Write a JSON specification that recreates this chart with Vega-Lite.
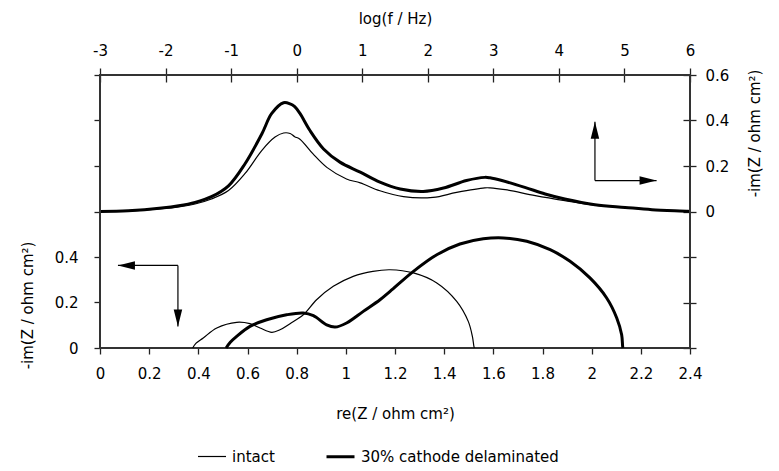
{
  "$schema": "https://vega.github.io/schema/vega-lite/v6.json",
  "width": 590,
  "height": 273,
  "autosize": {"type": "none"},
  "padding": {"left": 100, "top": 75, "right": 89, "bottom": 123},
  "background": "white",
  "config": {
    "view": {"stroke": null},
    "font": "DejaVu Sans",
    "axis": {
      "domain": false,
      "grid": false,
      "tickColor": "#222",
      "tickWidth": 1.3,
      "labelFont": "DejaVu Sans",
      "labelFontSize": 15,
      "labelColor": "black",
      "titleFont": "DejaVu Sans",
      "titleFontSize": 15,
      "titleFontWeight": "normal",
      "titleColor": "black",
      "labelOverlap": false,
      "labelFlush": false
    }
  },
  "datasets": {
    "bode": [
      {"series": "intact", "lf": -3, "im": 0},
      {"series": "intact", "lf": -2.57, "im": 0.002},
      {"series": "intact", "lf": -2.06, "im": 0.012},
      {"series": "intact", "lf": -1.8, "im": 0.02},
      {"series": "intact", "lf": -1.55, "im": 0.033},
      {"series": "intact", "lf": -1.3, "im": 0.055},
      {"series": "intact", "lf": -1.04, "im": 0.092},
      {"series": "intact", "lf": -0.79, "im": 0.166},
      {"series": "intact", "lf": -0.53, "im": 0.269},
      {"series": "intact", "lf": -0.33, "im": 0.327},
      {"series": "intact", "lf": -0.2, "im": 0.345},
      {"series": "intact", "lf": -0.1, "im": 0.343},
      {"series": "intact", "lf": -0.03, "im": 0.329},
      {"series": "intact", "lf": 0.05, "im": 0.318},
      {"series": "intact", "lf": 0.25, "im": 0.253},
      {"series": "intact", "lf": 0.46, "im": 0.194},
      {"series": "intact", "lf": 0.76, "im": 0.143},
      {"series": "intact", "lf": 0.97, "im": 0.126},
      {"series": "intact", "lf": 1.27, "im": 0.091},
      {"series": "intact", "lf": 1.63, "im": 0.065},
      {"series": "intact", "lf": 2.08, "im": 0.062},
      {"series": "intact", "lf": 2.44, "im": 0.084},
      {"series": "intact", "lf": 2.87, "im": 0.104},
      {"series": "intact", "lf": 2.95, "im": 0.104},
      {"series": "intact", "lf": 3.18, "im": 0.096},
      {"series": "intact", "lf": 3.64, "im": 0.07},
      {"series": "intact", "lf": 4.09, "im": 0.048},
      {"series": "intact", "lf": 4.55, "im": 0.028},
      {"series": "intact", "lf": 5.01, "im": 0.017},
      {"series": "intact", "lf": 5.42, "im": 0.008},
      {"series": "intact", "lf": 5.97, "im": 0.001},
      {"series": "intact", "lf": 6, "im": 0},
      {"series": "30% cathode delaminated", "lf": -3, "im": 0},
      {"series": "30% cathode delaminated", "lf": -2.57, "im": 0.003},
      {"series": "30% cathode delaminated", "lf": -2.06, "im": 0.015},
      {"series": "30% cathode delaminated", "lf": -1.8, "im": 0.025},
      {"series": "30% cathode delaminated", "lf": -1.55, "im": 0.04},
      {"series": "30% cathode delaminated", "lf": -1.3, "im": 0.065},
      {"series": "30% cathode delaminated", "lf": -1.04, "im": 0.113},
      {"series": "30% cathode delaminated", "lf": -0.79, "im": 0.209},
      {"series": "30% cathode delaminated", "lf": -0.53, "im": 0.342},
      {"series": "30% cathode delaminated", "lf": -0.38, "im": 0.431},
      {"series": "30% cathode delaminated", "lf": -0.2, "im": 0.478},
      {"series": "30% cathode delaminated", "lf": -0.1, "im": 0.473},
      {"series": "30% cathode delaminated", "lf": -0.03, "im": 0.461},
      {"series": "30% cathode delaminated", "lf": 0.05, "im": 0.431},
      {"series": "30% cathode delaminated", "lf": 0.2, "im": 0.357},
      {"series": "30% cathode delaminated", "lf": 0.41, "im": 0.275},
      {"series": "30% cathode delaminated", "lf": 0.66, "im": 0.217},
      {"series": "30% cathode delaminated", "lf": 0.97, "im": 0.173},
      {"series": "30% cathode delaminated", "lf": 1.27, "im": 0.129},
      {"series": "30% cathode delaminated", "lf": 1.58, "im": 0.099},
      {"series": "30% cathode delaminated", "lf": 1.93, "im": 0.088},
      {"series": "30% cathode delaminated", "lf": 2.24, "im": 0.103},
      {"series": "30% cathode delaminated", "lf": 2.59, "im": 0.136},
      {"series": "30% cathode delaminated", "lf": 2.87, "im": 0.15},
      {"series": "30% cathode delaminated", "lf": 2.95, "im": 0.148},
      {"series": "30% cathode delaminated", "lf": 3.13, "im": 0.136},
      {"series": "30% cathode delaminated", "lf": 3.48, "im": 0.106},
      {"series": "30% cathode delaminated", "lf": 3.79, "im": 0.077},
      {"series": "30% cathode delaminated", "lf": 4.09, "im": 0.055},
      {"series": "30% cathode delaminated", "lf": 4.55, "im": 0.03},
      {"series": "30% cathode delaminated", "lf": 5.01, "im": 0.018},
      {"series": "30% cathode delaminated", "lf": 5.42, "im": 0.008},
      {"series": "30% cathode delaminated", "lf": 5.97, "im": 0.001},
      {"series": "30% cathode delaminated", "lf": 6, "im": 0}
    ],
    "nyquist": [
      {"series": "intact", "re": 0.377, "im": 0},
      {"series": "intact", "re": 0.39, "im": 0.02},
      {"series": "intact", "re": 0.42, "im": 0.044},
      {"series": "intact", "re": 0.475, "im": 0.088},
      {"series": "intact", "re": 0.556, "im": 0.113},
      {"series": "intact", "re": 0.61, "im": 0.107},
      {"series": "intact", "re": 0.651, "im": 0.088},
      {"series": "intact", "re": 0.699, "im": 0.069},
      {"series": "intact", "re": 0.732, "im": 0.08},
      {"series": "intact", "re": 0.773, "im": 0.107},
      {"series": "intact", "re": 0.827, "im": 0.146},
      {"series": "intact", "re": 0.881, "im": 0.212},
      {"series": "intact", "re": 0.949, "im": 0.271},
      {"series": "intact", "re": 1.03, "im": 0.315},
      {"series": "intact", "re": 1.11, "im": 0.337},
      {"series": "intact", "re": 1.18, "im": 0.344},
      {"series": "intact", "re": 1.275, "im": 0.33},
      {"series": "intact", "re": 1.37, "im": 0.286},
      {"series": "intact", "re": 1.451, "im": 0.205},
      {"series": "intact", "re": 1.498, "im": 0.117},
      {"series": "intact", "re": 1.515, "im": 0.05},
      {"series": "intact", "re": 1.521, "im": 0.007},
      {"series": "intact", "re": 1.523, "im": 0},
      {"series": "30% cathode delaminated", "re": 0.513, "im": 0},
      {"series": "30% cathode delaminated", "re": 0.53, "im": 0.025},
      {"series": "30% cathode delaminated", "re": 0.556, "im": 0.051},
      {"series": "30% cathode delaminated", "re": 0.61, "im": 0.095},
      {"series": "30% cathode delaminated", "re": 0.678, "im": 0.124},
      {"series": "30% cathode delaminated", "re": 0.759, "im": 0.146},
      {"series": "30% cathode delaminated", "re": 0.827, "im": 0.154},
      {"series": "30% cathode delaminated", "re": 0.868, "im": 0.142},
      {"series": "30% cathode delaminated", "re": 0.922, "im": 0.102},
      {"series": "30% cathode delaminated", "re": 0.956, "im": 0.092},
      {"series": "30% cathode delaminated", "re": 1.003, "im": 0.11},
      {"series": "30% cathode delaminated", "re": 1.071, "im": 0.161},
      {"series": "30% cathode delaminated", "re": 1.139, "im": 0.212},
      {"series": "30% cathode delaminated", "re": 1.18, "im": 0.249},
      {"series": "30% cathode delaminated", "re": 1.275, "im": 0.337},
      {"series": "30% cathode delaminated", "re": 1.37, "im": 0.41},
      {"series": "30% cathode delaminated", "re": 1.464, "im": 0.457},
      {"series": "30% cathode delaminated", "re": 1.559, "im": 0.48},
      {"series": "30% cathode delaminated", "re": 1.641, "im": 0.484},
      {"series": "30% cathode delaminated", "re": 1.736, "im": 0.469},
      {"series": "30% cathode delaminated", "re": 1.831, "im": 0.432},
      {"series": "30% cathode delaminated", "re": 1.912, "im": 0.381},
      {"series": "30% cathode delaminated", "re": 1.993, "im": 0.308},
      {"series": "30% cathode delaminated", "re": 2.061, "im": 0.22},
      {"series": "30% cathode delaminated", "re": 2.102, "im": 0.132},
      {"series": "30% cathode delaminated", "re": 2.122, "im": 0.058},
      {"series": "30% cathode delaminated", "re": 2.126, "im": 0.007},
      {"series": "30% cathode delaminated", "re": 2.127, "im": 0}
    ],
    "frame": [
      {"re": 0, "im": 0, "re2": 2.4, "im2": 1.2}
    ],
    "bodeArrowShafts": [
      {"lf": 4.55, "im": 0.136, "lf2": 4.55, "im2": 0.394},
      {"lf": 4.55, "im": 0.136, "lf2": 5.49, "im2": 0.136}
    ],
    "bodeArrowHeads": [
      {"lf": 4.55, "im": 0.394, "dir": "up"},
      {"lf": 5.49, "im": 0.136, "dir": "right"}
    ],
    "nyquistArrowShafts": [
      {"re": 0.317, "im": 0.363, "re2": 0.073, "im2": 0.363},
      {"re": 0.317, "im": 0.363, "re2": 0.317, "im2": 0.095}
    ],
    "nyquistArrowHeads": [
      {"re": 0.073, "im": 0.363, "dir": "left"},
      {"re": 0.317, "im": 0.095, "dir": "down"}
    ]
  },
  "layer": [
    {
      "layer": [
        {
          "data": {"name": "bode"},
          "mark": {"type": "line", "color": "black", "interpolate": "catmull-rom"},
          "encoding": {
            "x": {
              "field": "lf", "type": "quantitative",
              "scale": {"domain": [-3, 6], "nice": false, "zero": false},
              "axis": {
                "orient": "top", "title": "log(f / Hz)",
                "values": [-3, -2, -1, 0, 1, 2, 3, 4, 5, 6],
                "labelExpr": "datum.value + ''",
                "offset": -7, "tickSize": 14, "labelPadding": 10,
                "titleBaseline": "middle", "titleY": -64
              }
            },
            "y": {
              "field": "im", "type": "quantitative",
              "scale": {"domain": [-0.6, 0.6], "nice": false, "zero": false},
              "axis": {
                "orient": "right", "title": "-im(Z / ohm cm²)",
                "values": [-0.6, -0.4, -0.2, 0, 0.2, 0.4, 0.6],
                "labelExpr": "datum.value >= 0 ? datum.value + '' : ''",
                "offset": -7, "tickSize": 13, "labelPadding": 9,
                "titleAngle": 270, "titleBaseline": "middle", "titleAlign": "center",
                "titleX": 71, "titleY": 58
              }
            },
            "strokeWidth": {
              "field": "series", "type": "nominal",
              "scale": {"type": "ordinal", "domain": ["intact", "30% cathode delaminated"], "range": [1.2, 3]},
              "legend": {
                "orient": "none", "legendX": 97, "legendY": 366,
                "direction": "horizontal", "title": null,
                "symbolType": "stroke", "symbolSize": 784,
                "symbolStrokeColor": "black",
                "labelFont": "DejaVu Sans", "labelFontSize": 15, "labelColor": "black",
                "labelLimit": 0,
                "labelOffset": 5, "columnPadding": 45, "padding": 0
              }
            }
          }
        },
        {
          "data": {"name": "bodeArrowShafts"},
          "mark": {"type": "rule", "color": "black", "strokeWidth": 1.2},
          "encoding": {
            "x": {"field": "lf", "type": "quantitative"},
            "y": {"field": "im", "type": "quantitative"},
            "x2": {"field": "lf2"},
            "y2": {"field": "im2"}
          }
        },
        {
          "data": {"name": "bodeArrowHeads"},
          "mark": {"type": "point", "filled": true, "color": "black", "opacity": 1, "size": 289, "strokeWidth": 0},
          "encoding": {
            "x": {"field": "lf", "type": "quantitative"},
            "y": {"field": "im", "type": "quantitative"},
            "shape": {
              "field": "dir", "type": "nominal", "legend": null,
              "scale": {
                "domain": ["up", "right", "left", "down"],
                "range": ["M0,0L-0.5,2L0.5,2Z", "M0,0L-2,-0.5L-2,0.5Z", "M0,0L2,-0.5L2,0.5Z", "M0,0L-0.5,-2L0.5,-2Z"]
              }
            }
          }
        }
      ]
    },
    {
      "layer": [
        {
          "data": {"name": "frame"},
          "mark": {"type": "rect", "filled": false, "color": "#333", "strokeWidth": 2, "opacity": 1},
          "encoding": {
            "x": {"field": "re", "type": "quantitative"},
            "y": {"field": "im", "type": "quantitative"},
            "x2": {"field": "re2"},
            "y2": {"field": "im2"}
          }
        },
        {
          "data": {"name": "nyquist"},
          "mark": {"type": "line", "color": "black", "interpolate": "catmull-rom"},
          "encoding": {
            "x": {
              "field": "re", "type": "quantitative",
              "scale": {"domain": [0, 2.4], "nice": false},
              "axis": {
                "orient": "bottom", "title": "re(Z / ohm cm²)",
                "values": [0, 0.2, 0.4, 0.6, 0.8, 1, 1.2, 1.4, 1.6, 1.8, 2, 2.2, 2.4],
                "labelExpr": "datum.value + ''",
                "tickSize": 6, "labelPadding": 12,
                "titleBaseline": "middle", "titleY": 65
              }
            },
            "y": {
              "field": "im", "type": "quantitative",
              "scale": {"domain": [0, 1.2], "nice": false},
              "axis": {
                "orient": "left", "title": "-im(Z / ohm cm²)",
                "values": [0, 0.2, 0.4, 0.6, 0.8, 1, 1.2],
                "labelExpr": "datum.value <= 0.4 ? datum.value + '' : ''",
                "tickSize": 6, "labelPadding": 16,
                "titleAngle": 270, "titleBaseline": "middle", "titleAlign": "center",
                "titleX": -73, "titleY": 230
              }
            },
            "strokeWidth": {
              "field": "series", "type": "nominal",
              "scale": {"type": "ordinal", "domain": ["intact", "30% cathode delaminated"], "range": [1.2, 3]}
            }
          }
        },
        {
          "data": {"name": "nyquistArrowShafts"},
          "mark": {"type": "rule", "color": "black", "strokeWidth": 1.2},
          "encoding": {
            "x": {"field": "re", "type": "quantitative"},
            "y": {"field": "im", "type": "quantitative"},
            "x2": {"field": "re2"},
            "y2": {"field": "im2"}
          }
        },
        {
          "data": {"name": "nyquistArrowHeads"},
          "mark": {"type": "point", "filled": true, "color": "black", "opacity": 1, "size": 289, "strokeWidth": 0},
          "encoding": {
            "x": {"field": "re", "type": "quantitative"},
            "y": {"field": "im", "type": "quantitative"},
            "shape": {
              "field": "dir", "type": "nominal", "legend": null,
              "scale": {
                "domain": ["up", "right", "left", "down"],
                "range": ["M0,0L-0.5,2L0.5,2Z", "M0,0L-2,-0.5L-2,0.5Z", "M0,0L2,-0.5L2,0.5Z", "M0,0L-0.5,-2L0.5,-2Z"]
              }
            }
          }
        }
      ]
    }
  ],
  "resolve": {"scale": {"x": "independent", "y": "independent"}}
}
